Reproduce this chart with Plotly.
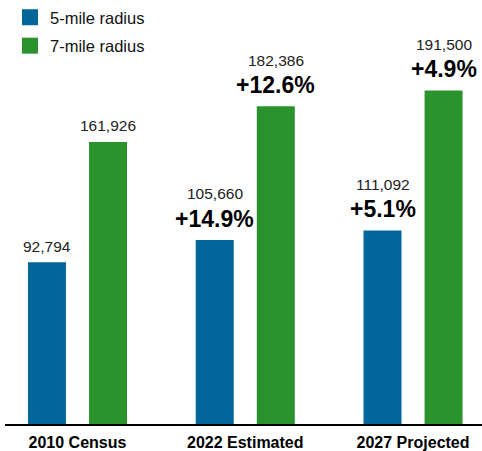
import plotly.graph_objects as go

categories = ["2010 Census", "2022 Estimated", "2027 Projected"]
five_mile = [92794, 105660, 111092]
seven_mile = [161926, 182386, 191500]
five_pct = [None, "+14.9%", "+5.1%"]
seven_pct = [None, "+12.6%", "+4.9%"]
series_names = ["5-mile radius", "7-mile radius"]
colors = ["#00669A", "#2A932D"]

ARIAL = "Liberation Sans, Arial, sans-serif"

bargap = 0.272
bargroupgap = 0.378
slot = (1 - bargap) / 2
offsets = [-slot / 2, slot / 2]

fig = go.Figure()
for name, vals, col in zip(series_names, [five_mile, seven_mile], colors):
    fig.add_trace(go.Bar(x=categories, y=vals, name=name, marker=dict(color=col, line=dict(width=0)),
                         showlegend=False, hoverinfo="skip"))
    fig.add_trace(go.Scatter(x=[None], y=[None], mode="markers", name=name, legendgroup=name,
                             marker=dict(symbol="square", size=16, color=col), showlegend=True))

annotations = []
for s, (vals, pcts) in enumerate([(five_mile, five_pct), (seven_mile, seven_pct)]):
    for i, (v, p) in enumerate(zip(vals, pcts)):
        xpos = i + offsets[s]
        if p is None:
            annotations.append(dict(x=xpos, y=v, xref="x", yref="y", text=f"{v:,}", showarrow=False,
                                    yanchor="middle", yshift=16, font=dict(family=ARIAL, size=15.5, color="#222")))
        else:
            annotations.append(dict(x=xpos, y=v, xref="x", yref="y", text=f"{v:,}", showarrow=False,
                                    yanchor="middle", yshift=46, font=dict(family=ARIAL, size=15.5, color="#222")))
            annotations.append(dict(x=xpos, y=v, xref="x", yref="y", text=f"<b>{p}</b>", showarrow=False,
                                    yanchor="middle", yshift=21, font=dict(family=ARIAL, size=23, color="#000")))

fig.update_layout(
    width=482, height=451,
    margin=dict(l=5, r=0, t=0, b=27),
    paper_bgcolor="white", plot_bgcolor="white",
    barmode="group", bargap=bargap, bargroupgap=bargroupgap,
    showlegend=True,
    legend=dict(x=0.0105, y=1, xanchor="left", yanchor="top", bgcolor="rgba(0,0,0,0)",
                font=dict(family=ARIAL, size=16.5, color="#111"), tracegroupgap=4,
                itemclick=False, itemdoubleclick=False),
    annotations=annotations,
)
fig.update_xaxes(type="category", range=[-0.432, 2.411], showline=True, linecolor="#000", linewidth=2,
                 ticks="", showgrid=False, zeroline=False, automargin=False,
                 tickfont=dict(family=ARIAL, size=16, color="#000"), ticklabelstandoff=3,
                 tickvals=categories, ticktext=[f"<b>{c}</b>" for c in categories])
fig.update_yaxes(range=[0, 243400], visible=False, showgrid=False, zeroline=False, automargin=False)

fig.write_html("out.html", config={"displayModeBar": False},
               post_script="document.body.style.margin='0';document.body.style.overflow='hidden';")
